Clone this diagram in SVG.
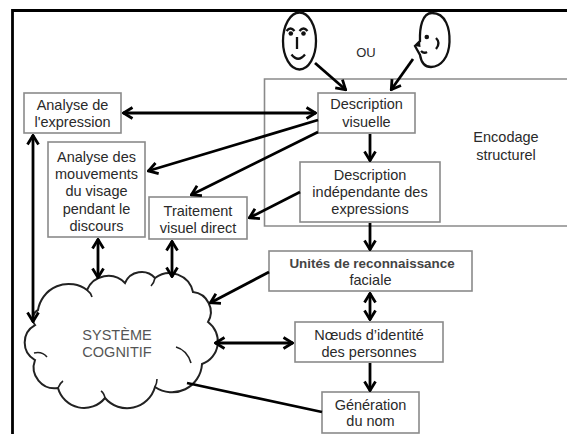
<svg xmlns="http://www.w3.org/2000/svg" width="567" height="434" viewBox="0 0 567 434">
<defs>
<marker id="ah" markerUnits="userSpaceOnUse" viewBox="0 0 12 14" refX="11" refY="7" markerWidth="12" markerHeight="14" orient="auto-start-reverse">
<path d="M1.5,1.5 L10.5,7 L1.5,12.5" fill="none" stroke="#000" stroke-width="2.8"/>
</marker>
</defs>
<style>
.box{fill:#fff;stroke:#8a8a8a;stroke-width:1.6}
.t{font-family:"Liberation Sans",Arial,sans-serif;font-size:14.5px;fill:#2a2a2a;text-anchor:middle}
.c{fill:none;stroke:#000;stroke-width:2.8}
.a{marker-end:url(#ah)}
.b{marker-start:url(#ah);marker-end:url(#ah)}
.face{fill:none;stroke:#111;stroke-width:2.3}
</style>
<rect width="567" height="434" fill="#fff"/>
<path d="M12.5,434 V10.5 H567" fill="none" stroke="#000" stroke-width="2.8"/>
<g id="encodage">
<path d="M567,79 H264.5 V226 H567" fill="none" stroke="#8a8a8a" stroke-width="1.6"/>
<text class="t" x="506" y="142">Encodage</text>
<text class="t" x="506" y="160">structurel</text>
</g>
<g id="face1">
<ellipse class="face" cx="299.5" cy="41" rx="16.5" ry="28.5"/>
<path class="face" d="M286.5,31 Q290.5,26 294.5,31 M299.5,31 Q303.5,26 307.5,31" stroke-width="1.8"/>
<circle cx="290.8" cy="33.5" r="2.3" fill="#111"/>
<circle cx="303.5" cy="33.5" r="2.3" fill="#111"/>
<path class="face" d="M297,37 V49"/>
<path class="face" d="M291.5,54.5 Q298,63 305,54.5"/>
</g>
<g id="face2">
<path class="face" d="M432,13 C446,13 450,29 449.5,42 C449,57 441,67 431,67 C424,67 421,61 420,55 L415,46 L420,41 C419.5,28 422,13 432,13 Z"/>
<path d="M415,46 L420,41 L420.5,47 Z" fill="#111"/>
<circle cx="426.8" cy="37" r="2.3" fill="#111"/>
<path class="face" d="M436,38 Q441,43 436,49"/>
<path class="face" d="M421,51 Q424,54 427,52" stroke-width="1.6"/>
</g>
<text id="ou" class="t" x="366" y="57" style="font-size:13px">OU</text>
<g id="cloud">
<path d="M38,310 A31,31 0 0 1 87,290 A23,23 0 0 1 125,283 A18,18 0 0 1 155,278 A24,24 0 0 1 193,292 A20,20 0 0 1 208,322 A24,24 0 0 1 202,364 A30,30 0 0 1 155,387 A29,29 0 0 1 105,398 A27,27 0 0 1 58,388 A21,21 0 0 1 35,360 A20,20 0 0 1 35,325 A10,10 0 0 1 38,310 Z" fill="#fff" stroke="#222" stroke-width="2"/>
<path d="M34,353 Q42,351 47,357 M176,347 Q187,350 191,363 M87,290 Q91,293 92,297 M155,278 Q154,283 151,286 M155,387 Q157,383 157,379 M105,398 Q104,393 101,391 M58,388 Q60,383 63,381" fill="none" stroke="#222" stroke-width="1.6"/>
<text class="t" x="117" y="340" style="fill:#555">SYSTÈME</text>
<text class="t" x="117" y="357" style="fill:#555">COGNITIF</text>
</g>
<g id="analyse-expression">
<rect class="box" x="24" y="93" width="97" height="40"/>
<text class="t" x="72.5" y="110">Analyse de</text>
<text class="t" x="72.5" y="127">l'expression</text>
</g>
<g id="analyse-mouvements">
<rect class="box" x="48" y="142" width="97" height="95"/>
<text class="t" x="96.5" y="162">Analyse des</text>
<text class="t" x="96.5" y="179">mouvements</text>
<text class="t" x="96.5" y="196">du visage</text>
<text class="t" x="96.5" y="214">pendant le</text>
<text class="t" x="96.5" y="231">discours</text>
</g>
<g id="traitement">
<rect class="box" x="149" y="197" width="98" height="42"/>
<text class="t" x="198" y="216">Traitement</text>
<text class="t" x="198" y="233">visuel direct</text>
</g>
<g id="description-visuelle">
<rect class="box" x="318" y="93" width="97" height="40"/>
<text class="t" x="366.5" y="109">Description</text>
<text class="t" x="366.5" y="127">visuelle</text>
</g>
<g id="description-independante">
<rect class="box" x="300" y="162" width="140" height="60"/>
<text class="t" x="370" y="180">Description</text>
<text class="t" x="370" y="197">indépendante des</text>
<text class="t" x="370" y="214">expressions</text>
</g>
<g id="unites">
<rect class="box" x="269" y="251" width="203" height="40"/>
<text class="t" x="372" y="268" style="font-size:13.4px;font-weight:bold;fill:#444">Unités de reconnaissance</text>
<text class="t" x="370.5" y="285">faciale</text>
</g>
<g id="noeuds">
<rect class="box" x="295" y="322" width="148" height="40"/>
<text class="t" x="369" y="340">Nœuds d’identité</text>
<text class="t" x="369" y="357">des personnes</text>
</g>
<g id="generation">
<rect class="box" x="322" y="392" width="97" height="41"/>
<text class="t" x="370.5" y="410">Génération</text>
<text class="t" x="370.5" y="426">du nom</text>
</g>
<g id="connectors">
<path class="c a" d="M315,63 L346,90"/>
<path class="c a" d="M413,59 L391,90"/>
<path class="c b" d="M123,113 L316,113"/>
<path class="c a" d="M318,120 L148,171"/>
<path class="c a" d="M318,132 L191,195"/>
<path class="c a" d="M300,192 L249,218"/>
<path class="c a" d="M370,134 L370,161"/>
<path class="c a" d="M370,223 L370,250"/>
<path class="c b" d="M370,293 L370,320"/>
<path class="c a" d="M370,363 L370,391"/>
<path class="c a" d="M269,272 L210,303"/>
<path class="c b" d="M215,343 L293,343"/>
<path class="c" d="M187,383 L322,412"/>
<path class="c b" d="M33,135 L33,322"/>
<path class="c b" d="M98,239 L98,278"/>
<path class="c b" d="M172,241 L172,277"/>
</g>
</svg>
